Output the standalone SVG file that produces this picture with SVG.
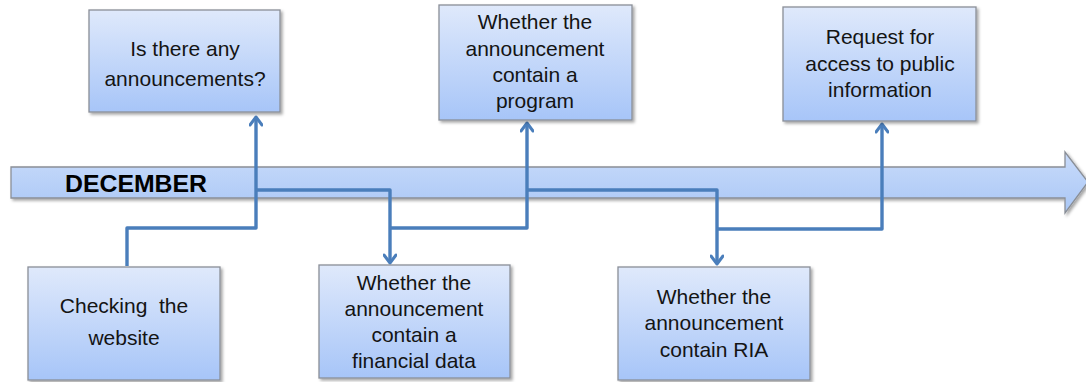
<svg xmlns="http://www.w3.org/2000/svg" width="1086" height="382" viewBox="0 0 1086 382">
<defs>
<linearGradient id="boxg" x1="0" y1="0" x2="0" y2="1">
<stop offset="0" stop-color="#dfe9fb"/>
<stop offset="1" stop-color="#a7c5f8"/>
</linearGradient>
<linearGradient id="barg" x1="0" y1="0" x2="0" y2="1">
<stop offset="0" stop-color="#c9dbfa"/>
<stop offset="1" stop-color="#a9c7f6"/>
</linearGradient>
<filter id="sh" x="-10%" y="-10%" width="130%" height="130%">
<feDropShadow dx="2" dy="2" stdDeviation="1.5" flood-color="#000" flood-opacity="0.35"/>
</filter>
<marker id="arr" markerWidth="14" markerHeight="14" refX="10" refY="7" orient="auto" markerUnits="userSpaceOnUse">
<path d="M2,1 L10,7 L2,13" fill="none" stroke="#4a7ebb" stroke-width="3" stroke-linecap="round" stroke-linejoin="round"/>
</marker>
</defs>
<style>
.box{fill:url(#boxg);stroke:#8a8f97;stroke-width:1.3;filter:url(#sh)}
.t{font-family:"Liberation Sans",Arial,sans-serif;font-size:21px;fill:#141414;text-anchor:middle}
.c{fill:none;stroke:#4a7ebb;stroke-width:3.4;stroke-linejoin:round}
</style>
<g id="timeline">
<path d="M11,167 L1065,167 L1065,152 L1088,182 L1065,213 L1065,198 L11,198 Z" fill="url(#barg)" stroke="#8a8f97" stroke-width="1.3" filter="url(#sh)"/>
<text x="65" y="192" font-family="'Liberation Sans',Arial,sans-serif" font-weight="bold" font-size="24" fill="#000" textLength="142" lengthAdjust="spacingAndGlyphs">DECEMBER</text>
</g>
<g id="connectors">
<path class="c" d="M127,266 L127,228 L256,228 L256,117" marker-end="url(#arr)"/>
<path class="c" d="M256,190 L390,190 L390,263" marker-end="url(#arr)"/>
<path class="c" d="M390,228 L527,228 L527,123" marker-end="url(#arr)"/>
<path class="c" d="M527,190 L717,190 L717,264" marker-end="url(#arr)"/>
<path class="c" d="M717,229 L882,229 L882,124" marker-end="url(#arr)"/>
</g>
<g id="n1">
<rect class="box" x="89" y="10" width="191" height="102"/>
<text class="t" x="185" y="56">Is there any</text>
<text class="t" x="185" y="86">announcements?</text>
</g>
<g id="n2">
<rect class="box" x="439" y="5" width="193" height="115"/>
<text class="t" x="535" y="29">Whether the</text>
<text class="t" x="535" y="56">announcement</text>
<text class="t" x="535" y="82">contain a</text>
<text class="t" x="535" y="108">program</text>
</g>
<g id="n3">
<rect class="box" x="783" y="7" width="193" height="114"/>
<text class="t" x="880" y="44">Request for</text>
<text class="t" x="880" y="71">access to public</text>
<text class="t" x="880" y="97">information</text>
</g>
<g id="n4">
<rect class="box" x="28" y="267" width="192" height="113"/>
<text class="t" x="124" y="313" xml:space="preserve">Checking  the</text>
<text class="t" x="124" y="345">website</text>
</g>
<g id="n5">
<rect class="box" x="319" y="265" width="191" height="113"/>
<text class="t" x="414" y="290">Whether the</text>
<text class="t" x="414" y="316">announcement</text>
<text class="t" x="414" y="342">contain a</text>
<text class="t" x="414" y="368">financial data</text>
</g>
<g id="n6">
<rect class="box" x="618" y="267" width="192" height="113"/>
<text class="t" x="714" y="304">Whether the</text>
<text class="t" x="714" y="330">announcement</text>
<text class="t" x="714" y="357">contain RIA</text>
</g>
</svg>
